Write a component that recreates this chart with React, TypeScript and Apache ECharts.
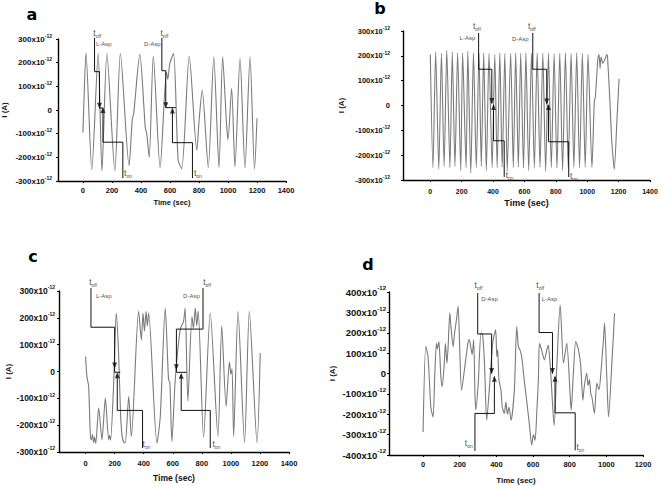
import { useEffect, useRef } from 'react';
import * as echarts from 'echarts';

// ---------- shared tick values ----------
const timeTicks1400 = [0, 200, 400, 600, 800, 1000, 1200, 1400];
const timeTicks1200 = [0, 200, 400, 600, 800, 1000, 1200];

// ---------- panel a (current in 1e-12 A vs time in s) ----------
const aSignal: [number, number][] = [
  [0, -95], [4, -15], [21, 242], [61, -253], [105, 240], [131, -258], [165, 240], [220, -258],
  [258, 240], [318, -235], [340, -40], [350, -15], [392, 235], [430, -75], [440, -100], [457, -200],
  [485, 228], [532, -245], [576, 160], [585, 130], [600, 200], [625, 238], [656, -210], [681, -248],
  [733, 228], [785, -170], [800, -50], [822, 84], [864, -243], [902, 225], [938, -243], [963, 225],
  [990, -60], [1000, -125], [1025, 92], [1048, -240], [1083, 220], [1117, -246], [1152, 225],
  [1183, -250], [1200, -35],
];
const aLOff: [number, number][] = [[80, 305], [80, 162], [114, 162], [114, 8], [140, 8]];
const aLOn: [number, number][] = [[275, -288], [275, -136], [138, -136], [138, 4]];
const aDOff: [number, number][] = [[544, 305], [544, 166], [571, 166], [571, 10], [640, 10]];
const aDOn: [number, number][] = [[755, -288], [755, -138], [617, -138], [617, 2]];
const aArrowDown: [number, number][] = [[114, 18], [571, 20]];
const aArrowUp: [number, number][] = [[138, 0], [617, -2]];
const aNotes: [string, number, number][] = [
  ['toff', 102, 322], ['L-Asp', 147, 275], ['D-Asp', 481, 275], ['toff', 565, 322],
  ['ton', 314, -267], ['ton', 796, -270],
];

// ---------- panel b ----------
const bSignal: [number, number][] = [
  [0, 205], [17, -250], [34, 215], [54, -255], [71, 210], [88, -245], [105, 222], [125, -250],
  [140, 215], [157, -245], [174, 212], [194, -262], [206, 212], [228, -250], [239, 218], [258, -272],
  [275, 212], [293, -250], [310, 210], [325, -245], [340, 212], [357, -262], [374, 210], [394, -250],
  [411, 205], [426, -250], [443, 212], [458, -248], [475, 210], [490, -265], [512, 210], [529, -250],
  [544, 212], [561, -248], [576, 210], [594, -252], [609, 212], [627, -262], [645, 210], [663, -250],
  [681, 212], [699, -248], [717, 210], [735, -265], [753, 212], [771, -250], [789, 208], [807, -252],
  [825, 210], [843, -262], [861, 212], [879, -250], [897, 210], [915, -248], [933, 212], [951, -250],
  [969, 210], [987, -248], [1005, 205], [1030, -250], [1045, 15], [1052, 35], [1068, 190], [1075, 205],
  [1082, 150], [1088, 195], [1100, 170], [1112, 185], [1125, 205], [1130, 190], [1145, 10],
  [1155, -130], [1162, -190], [1172, -258], [1190, -50], [1203, 108],
];
const bLOff: [number, number][] = [[308, 292], [308, 146], [392, 146], [392, 8]];
const bLOn: [number, number][] = [[471, -288], [471, -142], [403, -142], [403, 0]];
const bDOff: [number, number][] = [[653, 292], [653, 146], [742, 146], [742, 8]];
const bDOn: [number, number][] = [[882, -288], [882, -146], [753, -146], [753, 0]];
const bArrowDown: [number, number][] = [[392, 18], [742, 16]];
const bArrowUp: [number, number][] = [[403, -6], [753, -6]];
const bNotes: [string, number, number][] = [
  ['toff', 300, 320], ['L-Asp', 240, 269], ['D-Asp', 577, 265], ['toff', 650, 318],
  ['ton', 509, -280], ['ton', 918, -284],
];

// ---------- panel c ----------
const cSignal: [number, number][] = [
  [0, 56], [9, -18], [21, -55], [32, -230], [39, -255], [48, -235], [55, -265], [62, -245], [70, -268],
  [90, -136], [113, -254], [136, -99], [159, -254], [166, -238], [172, -256], [192, -60], [211, 218],
  [227, 70], [240, -150], [251, -240], [264, -265], [273, -266], [297, -93], [315, -242], [365, 224],
  [384, 118], [395, 218], [405, 150], [416, 224], [425, 170], [434, 218], [491, -267], [514, -168],
  [548, 236], [571, -31], [580, -40], [594, -261], [617, -31], [651, 156], [674, 187], [685, 236],
  [704, -110], [732, 205], [742, 160], [755, 236], [765, 170], [775, 225], [812, -245], [858, 218],
  [911, -242], [937, 170], [967, -130], [990, 35], [1000, -10], [1008, 10], [1019, -242], [1049, 224],
  [1094, -266], [1127, 224], [1180, -266], [1202, 69],
];
const cLOff: [number, number][] = [[37, 311], [37, 165], [200, 165], [200, -3], [239, -3]];
const cLOn: [number, number][] = [[392, -285], [392, -145], [218, -145], [218, -10]];
const cDOff: [number, number][] = [[808, 311], [808, 158], [625, 158], [625, -3], [697, -3]];
const cDOn: [number, number][] = [[858, -285], [858, -145], [658, -145], [658, -12]];
const cArrowDown: [number, number][] = [[200, 22], [625, 16]];
const cArrowUp: [number, number][] = [[218, -14], [658, -16]];
const cNotes: [string, number, number][] = [
  ['toff', 55, 331], ['L-Asp', 129, 281], ['D-Asp', 732, 281], ['toff', 840, 331],
  ['ton', 423, -272], ['ton', 904, -272],
];

// ---------- panel d ----------
const dSignal: [number, number][] = [
  [0, -287], [15, 132], [27, 83], [42, -163], [50, -200], [55, -213], [64, 1], [73, 148], [78, 120],
  [86, 157], [97, -16], [104, -65], [115, 42], [122, 148], [130, 50], [136, 120], [146, 298], [152, 230],
  [164, 132], [172, 200], [182, 263], [191, 331], [200, 120], [210, -82], [230, 50], [245, 150],
  [252, 167], [262, 120], [268, 93], [276, 167], [283, -100], [288, -178], [301, -48], [316, 198],
  [325, 190], [335, 50], [347, -229], [365, -32], [380, 150], [396, 214], [402, 83], [407, 116],
  [414, -32], [425, -81], [432, -163], [443, -196], [452, -140], [460, -200], [469, -165], [480, -229],
  [498, -81], [511, 230], [520, 132], [529, 115], [538, 83], [552, -32], [565, -131], [580, -250],
  [593, -352], [602, -300], [611, -328], [620, -200], [629, -32], [635, 148], [647, 115], [662, 66],
  [675, 115], [683, 140], [692, 60], [700, -50], [715, -255], [730, 40], [748, 337], [766, 50],
  [775, 100], [784, 148], [803, -114], [808, -180], [820, 0], [833, 157], [848, 115], [860, 40],
  [872, -131], [880, -60], [893, 1], [900, -60], [908, -30], [915, -100], [921, -114], [935, -196],
  [948, -48], [960, -80], [970, 0], [980, 120], [985, 173], [990, 247], [1003, -32], [1012, -213],
  [1030, 50], [1045, 296],
];
const dDOff: [number, number][] = [[298, 395], [298, 194], [374, 194], [374, 0]];
const dDOn: [number, number][] = [[283, -380], [283, -196], [389, -196], [389, -16]];
const dLOff: [number, number][] = [[633, 395], [633, 201], [706, 201], [706, 0]];
const dLOn: [number, number][] = [[830, -377], [830, -193], [720, -193], [720, -16]];
const dArrowDown: [number, number][] = [[374, 12], [706, 12]];
const dArrowUp: [number, number][] = [[389, -26], [720, -26]];
const dNotes: [string, number, number][] = [
  ['toff', 305, 430], ['D-Asp', 365, 361], ['toff', 642, 430], ['L-Asp', 693, 361],
  ['ton', 252, -346], ['ton', 861, -362],
];

const FONT = '"Liberation Sans", Arial, sans-serif';
const INK = '#111111';

type PanelCfg = {
  letter: string;
  letterPos: [number, number];
  grid: { left: number; top: number; width: number; height: number };
  xMin: number;
  xMax: number;
  xTicks: number[];
  yLim: number;
  yLabelSize: number;
  yLabelMargin: number;
  xLabelSize: number;
  xLabelMargin: number;
  xNameSize: number;
  xNameGap: number;
  yNameGap: number;
  signal: [number, number][];
  paths: [number, number][][];
  arrowsDown: [number, number][];
  arrowsUp: [number, number][];
  notes: [string, number, number][];
};

const panels: PanelCfg[] = [
  {
    letter: 'a', letterPos: [32, 14], grid: { left: 58, top: 39, width: 228, height: 142 },
    xMin: -172, xMax: 1400, xTicks: timeTicks1400, yLim: 300, yLabelSize: 8, yLabelMargin: 6,
    xLabelSize: 7.5, xLabelMargin: 5, xNameSize: 7.5, xNameGap: 17, yNameGap: 50,
    signal: aSignal, paths: [aLOff, aLOn, aDOff, aDOn], arrowsDown: aArrowDown, arrowsUp: aArrowUp, notes: aNotes,
  },
  {
    letter: 'b', letterPos: [380, 8], grid: { left: 403, top: 31, width: 247, height: 149 },
    xMin: -174, xMax: 1400, xTicks: timeTicks1400, yLim: 300, yLabelSize: 7.5, yLabelMargin: 13,
    xLabelSize: 7, xLabelMargin: 8, xNameSize: 9, xNameGap: 18, yNameGap: 58,
    signal: bSignal, paths: [bLOff, bLOn, bDOff, bDOn], arrowsDown: bArrowDown, arrowsUp: bArrowUp, notes: bNotes,
  },
  {
    letter: 'c', letterPos: [33, 256], grid: { left: 59, top: 291, width: 230, height: 161 },
    xMin: -183, xMax: 1400, xTicks: timeTicks1400, yLim: 300, yLabelSize: 8.5, yLabelMargin: 4,
    xLabelSize: 7.5, xLabelMargin: 7, xNameSize: 8.5, xNameGap: 21, yNameGap: 47,
    signal: cSignal, paths: [cLOff, cLOn, cDOff, cDOn], arrowsDown: cArrowDown, arrowsUp: cArrowUp, notes: cNotes,
  },
  {
    letter: 'd', letterPos: [368, 264], grid: { left: 389, top: 292, width: 254, height: 163 },
    xMin: -186, xMax: 1200, xTicks: timeTicks1200, yLim: 400, yLabelSize: 9.5, yLabelMargin: 3,
    xLabelSize: 7.5, xLabelMargin: 5, xNameSize: 8, xNameGap: 21, yNameGap: 53,
    signal: dSignal, paths: [dDOff, dDOn, dLOff, dLOn], arrowsDown: dArrowDown, arrowsUp: dArrowUp, notes: dNotes,
  },
];

function buildOption() {
  const grids: any[] = [];
  const xAxes: any[] = [];
  const yAxes: any[] = [];
  const series: any[] = [];
  const graphics: any[] = [];

  panels.forEach((p, i) => {
    grids.push({ ...p.grid, containLabel: false, outerBoundsMode: 'none' });
    xAxes.push({
      type: 'value', gridIndex: i, min: p.xMin, max: p.xMax,
      name: 'Time (sec)', nameLocation: 'middle', nameGap: p.xNameGap,
      nameTextStyle: { fontFamily: FONT, fontWeight: 'bold', fontSize: p.xNameSize, color: INK },
      axisLine: { show: true, onZero: false, lineStyle: { color: '#000', width: 1.4 } },
      axisTick: { show: true, customValues: p.xTicks, length: 2, lineStyle: { color: '#000' } },
      axisLabel: {
        customValues: p.xTicks, fontFamily: FONT, fontWeight: 'bold', fontSize: p.xLabelSize,
        color: INK, margin: p.xLabelMargin,
        formatter: (v: number) => String(Math.round(v)),
      },
      splitLine: { show: false },
    });
    yAxes.push({
      type: 'value', gridIndex: i, min: -p.yLim, max: p.yLim, interval: 100,
      name: 'I (A)', nameLocation: 'middle', nameRotate: 90, nameGap: p.yNameGap,
      nameTextStyle: { fontFamily: FONT, fontWeight: 'bold', fontSize: 8, color: INK },
      axisLine: { show: true, onZero: false, lineStyle: { color: '#000', width: 1.4 } },
      axisTick: { show: true, length: 2, lineStyle: { color: '#000' } },
      axisLabel: {
        fontFamily: FONT, fontWeight: 'bold', fontSize: p.yLabelSize, color: INK,
        margin: p.yLabelMargin, lineHeight: p.yLabelSize + 4,
        formatter: (v: number) => (v === 0 ? '0' : `${v}x10{s|-12}`),
        rich: { s: { fontFamily: FONT, fontWeight: 'bold', fontSize: Math.round(p.yLabelSize * 0.6), color: INK, verticalAlign: 'top' } },
      },
      splitLine: { show: false },
    });

    series.push({
      type: 'line', xAxisIndex: i, yAxisIndex: i, data: p.signal, showSymbol: false, symbol: 'none',
      smooth: 0.25, lineStyle: { color: '#7a7a7a', width: 1.1 }, silent: true, z: 2,
    });
    p.paths.forEach((path) => {
      series.push({
        type: 'line', xAxisIndex: i, yAxisIndex: i, data: path, showSymbol: false, symbol: 'none',
        clip: false, lineStyle: { color: INK, width: 1 }, silent: true, z: 3,
      });
    });
    series.push({
      type: 'scatter', xAxisIndex: i, yAxisIndex: i, data: p.arrowsDown, symbol: 'triangle',
      symbolRotate: 180, symbolSize: [5, 6], itemStyle: { color: INK }, clip: false, silent: true, z: 4,
    });
    series.push({
      type: 'scatter', xAxisIndex: i, yAxisIndex: i, data: p.arrowsUp, symbol: 'triangle',
      symbolSize: [5, 6], itemStyle: { color: INK }, clip: false, silent: true, z: 4,
    });
    series.push({
      type: 'scatter', xAxisIndex: i, yAxisIndex: i, symbolSize: 1, clip: false, silent: true, z: 5,
      itemStyle: { color: 'rgba(0,0,0,0)' },
      data: p.notes.map(([name, t, v]) => ({ name, value: [t, v] })),
      label: {
        show: true, position: [0, 0], align: 'center', verticalAlign: 'middle',
        color: INK, fontFamily: FONT, fontSize: 6, textBorderWidth: 0,
        formatter: (prm: any) => {
          if (prm.name === 'toff') return '{t|t}{s|off}';
          if (prm.name === 'ton') return '{t|t}{s|on}';
          return '{n|' + prm.name + '}';
        },
        rich: {
          t: { fontFamily: FONT, fontSize: 8.5, color: INK, lineHeight: 11, textBorderWidth: 0 },
          s: { fontFamily: FONT, fontSize: 5, color: INK, verticalAlign: 'bottom', textBorderWidth: 0 },
          n: { fontFamily: FONT, fontSize: 6, color: INK, textBorderWidth: 0 },
        },
      },
    });

    graphics.push({
      type: 'text', x: p.letterPos[0], y: p.letterPos[1],
      style: { text: p.letter, font: 'bold 16px "DejaVu Sans", Verdana, sans-serif', fill: '#000', align: 'center', verticalAlign: 'middle' },
    });
  });

  return {
    animation: false,
    backgroundColor: '#fff',
    grid: grids,
    xAxis: xAxes,
    yAxis: yAxes,
    series,
    graphic: graphics,
  };
}

export default function App() {
  const ref = useRef<HTMLDivElement>(null);
  useEffect(() => {
    if (!ref.current) return;
    const chart = echarts.init(ref.current, undefined, { renderer: 'svg' });
    chart.setOption(buildOption() as any);
    return () => chart.dispose();
  }, []);
  return (
    <div
      ref={ref}
      style={{ position: 'fixed', left: 0, top: 0, width: 661, height: 486, background: '#fff' }}
    />
  );
}
